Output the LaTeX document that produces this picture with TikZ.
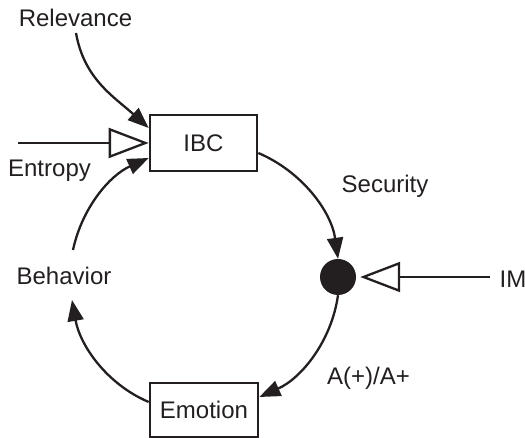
\documentclass[tikz,border=0pt]{standalone}
\usepackage{fontspec}
\setmainfont{Liberation Sans}
\usetikzlibrary{arrows.meta}
\definecolor{ink}{HTML}{231F20}
\begin{document}
\begin{tikzpicture}[x=1pt,y=1pt,
  every node/.style={font=\fontsize{24}{28}\selectfont, text=ink},
  blockbox/.style={draw=ink, line width=2.6pt, rectangle, inner sep=0pt},
  label/.style={anchor=base, inner sep=0pt},
  flow/.style={draw=ink, line width=2.3pt, -{Triangle[length=21pt,width=16pt]}},
  inflow/.style={draw=ink, line width=2.3pt, -{Triangle[open,length=40pt,width=30pt,line width=2.3pt]}},
  hub/.style={circle, fill=ink, minimum size=36pt, inner sep=0pt}]
\useasboundingbox (0,0) rectangle (525,438);

% blocks of the loop
\node[blockbox, minimum width=107pt, minimum height=56pt] (ibc) at (203.5,295) {IBC};
\node[blockbox, minimum width=108pt, minimum height=54pt] (emotion) at (204,28) {Emotion};
\node[hub] (dot) at (338,161) {};

% labels
\node[label] (relevance) at (75.5,411) {Relevance};
\node[label] (entropy) at (49.5,261) {Entropy};
\node[label] (security) at (385,245) {Security};
\node[label] (im) at (513,150) {IM};
\node[label] (behavior) at (64,153) {Behavior};
\node[label] (aplus) at (368.5,53) {A(+)/A+};

% free ends
\coordinate (relstart) at (76,405);
\coordinate (entstart) at (18,295);
\coordinate (imstart) at (490,161);
\coordinate (bin) at (72,138);
\coordinate (bout) at (73,188);

% outer inputs
\draw[flow] (relstart) to[out=-80,in=138] ([yshift=15pt]ibc.west);
\draw[inflow] (entstart) -- (ibc.west);
\draw[inflow, shorten >=4pt] (imstart) -- (dot.east);

% the loop
\draw[flow] ([yshift=-10pt]ibc.east) to[out=-23,in=98,looseness=0.92] (dot.north);
\draw[flow] (dot.south) to[out=-98,in=24,looseness=0.92] ([yshift=13pt]emotion.east);
\draw[flow] ([yshift=8pt]emotion.west) to[out=157,in=-80,looseness=0.92] (bin);
\draw[flow] (bout) to[out=78,in=-156,looseness=0.92] ([yshift=-15pt]ibc.west);
\end{tikzpicture}
\end{document}
